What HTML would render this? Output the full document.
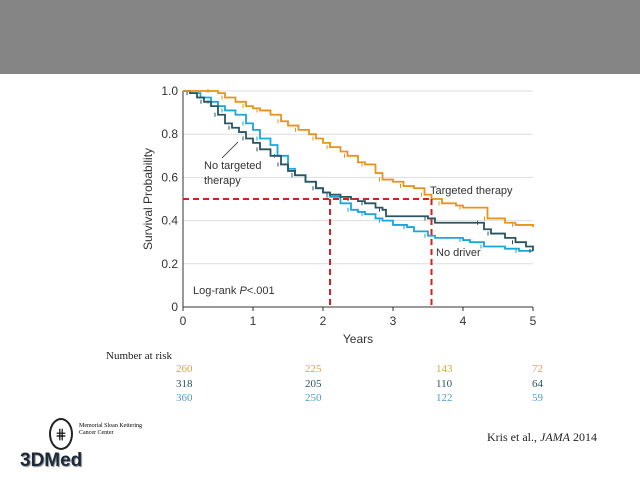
<!DOCTYPE html>
<html><head><meta charset="utf-8"><style>
body{margin:0;width:640px;height:480px;background:#fff;overflow:hidden;position:relative;font-family:"Liberation Sans",sans-serif}
.hdr{position:absolute;left:0;top:0;width:640px;height:74px;background:#858585}
.t{position:absolute;font-family:"Liberation Serif",serif;font-size:11px}
</style></head><body>
<div class="hdr"></div>
<svg id="chart" width="640" height="480" style="position:absolute;left:0;top:0"></svg>
<div class="t" style="left:106px;top:350px;font-size:11px;color:#222">Number at risk</div>
<div id="risk"></div>
<div style="position:absolute;left:49px;top:418px;width:20px;height:28px;border:2px solid #222;border-radius:50%;text-align:center;font-size:14px;line-height:28px">⋕</div>
<div class="t" style="left:79px;top:423px;font-size:6px;line-height:7px">Memorial Sloan Kettering<br>Cancer Center</div>
<div style="position:absolute;left:20px;top:450px;font-size:19px;font-weight:bold;color:#1a2a3a;text-shadow:1px 1px 1px #888">3DMed</div>
<div class="t" style="left:487px;top:430px;font-size:12px;color:#222">Kris et al., <i>JAMA</i> 2014</div>
<script>
const targetedX=[0,0.4,0.5,0.6,0.75,0.9,1,1.1,1.25,1.4,1.5,1.65,1.8,1.9,2,2.1,2.25,2.35,2.5,2.6,2.75,2.85,3,3.15,3.3,3.45,3.55,3.7,3.9,4,4.3,4.35,4.6,4.75,5];
const targetedY=[1,1,0.99,0.97,0.95,0.93,0.92,0.91,0.89,0.86,0.84,0.82,0.8,0.78,0.76,0.74,0.72,0.7,0.67,0.66,0.62,0.59,0.58,0.56,0.55,0.52,0.5,0.48,0.47,0.46,0.46,0.41,0.39,0.38,0.37];
const noTargX=[0,0.1,0.2,0.3,0.4,0.5,0.6,0.7,0.8,0.9,1,1.1,1.25,1.4,1.5,1.6,1.75,1.9,2,2.1,2.25,2.4,2.5,2.6,2.75,2.85,2.9,3.5,3.6,4.25,4.3,4.4,4.6,4.75,4.9,5];
const noTargY=[1,0.99,0.97,0.95,0.93,0.89,0.85,0.83,0.81,0.78,0.76,0.73,0.7,0.66,0.63,0.61,0.58,0.55,0.53,0.52,0.51,0.5,0.49,0.48,0.46,0.45,0.42,0.41,0.39,0.39,0.36,0.34,0.32,0.3,0.28,0.26];
const noDrvX=[0,0.1,0.25,0.4,0.5,0.6,0.75,0.9,1,1.1,1.25,1.35,1.5,1.6,1.75,1.9,2,2.1,2.25,2.4,2.5,2.6,2.75,2.85,3,3.2,3.3,3.5,3.6,4,4.1,4.3,4.6,4.8,5];
const noDrvY=[1,0.99,0.97,0.95,0.93,0.91,0.89,0.85,0.82,0.78,0.75,0.7,0.64,0.61,0.58,0.55,0.53,0.51,0.48,0.45,0.44,0.43,0.41,0.4,0.38,0.37,0.35,0.33,0.32,0.31,0.3,0.28,0.27,0.26,0.26];
const xTicks=[0,1,2,3,4,5];
const yTicks=[0,0.2,0.4,0.6,0.8,1.0];
const riskTargeted=[260,225,143,72];
const riskNoTarg=[318,205,110,64];
const riskNoDrv=[360,250,122,59];
const riskX=[185,314,445,541];
const medians=[2.1,3.55];
const NS="http://www.w3.org/2000/svg";
const svg=document.getElementById('chart');
const sx=v=>183+v*70, sy=v=>307-v*216;
function mk(tag,attrs){const e=document.createElementNS(NS,tag);for(const k in attrs)e.setAttribute(k,attrs[k]);svg.appendChild(e);return e;}
yTicks.forEach(t=>{
  if(t>0){const g=mk('line',{x1:183,x2:533,y1:sy(t),y2:sy(t),stroke:'#ddd','stroke-width':1});
  
  }
  const tx=mk('text',{x:178,y:sy(t)+4,'text-anchor':'end','font-size':12,fill:'#333','font-family':'Liberation Sans'});tx.textContent=t.toFixed(1).replace('0.0','0');
  
  
});
xTicks.forEach(t=>{
  const l=mk('line',{x1:sx(t),x2:sx(t),y1:307,y2:311,stroke:'#333'});
  
  
  const tx=mk('text',{x:sx(t),y:325,'text-anchor':'middle','font-size':12,fill:'#333','font-family':'Liberation Sans'});tx.textContent=t;
  
  
});
const ax=mk('path',{d:'M183,91V307H533',fill:'none',stroke:'#333','stroke-width':1});


function series(X,Y,c,name){
  let d='M'+sx(X[0])+','+sy(Y[0]);
  for(let i=1;i<X.length;i++){d+='H'+sx(X[i])+'V'+sy(Y[i]);}
  const p=mk('path',{d:d,fill:'none',stroke:c,'stroke-width':1.8});
  
  
  for(let i=1;i<X.length;i+=2){const m=mk('path',{d:'M'+(sx(X[i])-3)+','+(sy(Y[i])-2)+'v4',stroke:c,'stroke-width':1});
  
  }
}
series(noDrvX,noDrvY,'#1aa6dd','no-driver-line');
series(noTargX,noTargY,'#2a5560','no-targeted-line');
series(targetedX,targetedY,'#e8931c','targeted-line');
medians.forEach(m=>{
  const l=mk('path',{d:'M183,'+sy(0.5)+'H'+sx(m)+'M'+sx(m)+','+sy(0.5)+'V307',fill:'none',stroke:'#d62020','stroke-width':2,'stroke-dasharray':'6,4'});
  
  
});
function txt(x,y,s,name,extra){const t=mk('text',Object.assign({x:x,y:y,'font-size':11,fill:'#333','font-family':'Liberation Sans'},extra||{}));t.innerHTML=s;
  
  return t;}
txt(430,194,'Targeted therapy','label-targeted');
txt(436,256,'No driver','label-no-driver');
txt(204,169,'No targeted','label-no-targeted');
txt(204,184,'therapy','label-no-targeted-2');
const ld=mk('line',{x1:222,y1:158,x2:238,y2:142,stroke:'#555'});


txt(193,294,'Log-rank <tspan font-style="italic">P</tspan>&lt;.001','logrank-label');
txt(358,343,'Years','x-axis-title',{'text-anchor':'middle','font-size':12});
txt(0,0,'Survival Probability','y-axis-title',{'text-anchor':'middle','font-size':12,transform:'translate(152,199) rotate(-90)'});
const rows=[[riskTargeted,'#d9a838',372],[riskNoTarg,'#2a5560',387],[riskNoDrv,'#4a9ecf',401]];
const risk=document.getElementById('risk');
rows.forEach(r=>{r[0].forEach((v,i)=>{
  const d=document.createElement('div');d.className='t';d.style.left=(riskX[i]-9)+'px';d.style.top=(r[2]-9)+'px';d.style.color=r[1];d.textContent=v;
  
  
  risk.appendChild(d);});});
</script>
</body></html>
